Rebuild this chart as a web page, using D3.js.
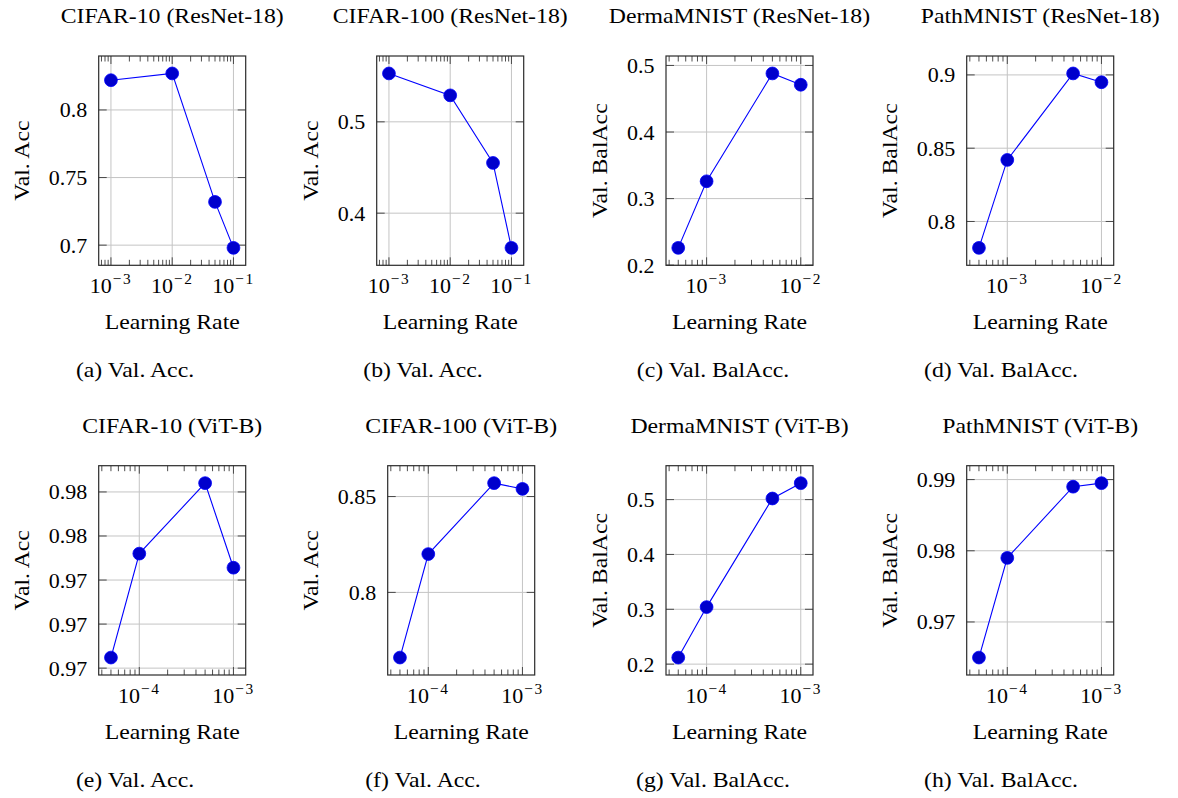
<!DOCTYPE html>
<html>
<head>
<meta charset="utf-8">
<script src="https://cdn.jsdelivr.net/npm/d3@7"></script>
<style>
  body { margin: 0; background: #fff; }
  text { font-family: "Liberation Serif", "Times New Roman", serif; fill: #000; }
</style>
</head>
<body>
<svg id="fig" width="1178" height="798"></svg>
<script>
// ---- Data ---------------------------------------------------------------
const panelTitles = [
  "CIFAR-10 (ResNet-18)", "CIFAR-100 (ResNet-18)", "DermaMNIST (ResNet-18)", "PathMNIST (ResNet-18)",
  "CIFAR-10 (ViT-B)", "CIFAR-100 (ViT-B)", "DermaMNIST (ViT-B)", "PathMNIST (ViT-B)"
];
const captions = [
  "(a) Val. Acc.", "(b) Val. Acc.", "(c) Val. BalAcc.", "(d) Val. BalAcc.",
  "(e) Val. Acc.", "(f) Val. Acc.", "(g) Val. BalAcc.", "(h) Val. BalAcc."
];
const yAxisLabels = [
  "Val. Acc", "Val. Acc", "Val. BalAcc", "Val. BalAcc",
  "Val. Acc", "Val. Acc", "Val. BalAcc", "Val. BalAcc"
];
const xAxisLabel = "Learning Rate";

// learning rates swept
const lrResNetCifar = [1e-3, 1e-2, 5e-2, 1e-1];
const lrResNetMed = [5e-4, 1e-3, 5e-3, 1e-2];
const lrViT = [5e-5, 1e-4, 5e-4, 1e-3];

// validation scores per learning rate
const cifar10ResNet = [0.822, 0.827, 0.732, 0.698];
const cifar100ResNet = [0.553, 0.529, 0.455, 0.362];
const dermaResNet = [0.226, 0.326, 0.488, 0.471];
const pathResNet = [0.782, 0.842, 0.901, 0.895];
const cifar10ViT = [0.9681, 0.9740, 0.9780, 0.9732];
const cifar100ViT = [0.766, 0.820, 0.857, 0.854];
const dermaViT = [0.212, 0.304, 0.502, 0.530];
const pathViT = [0.965, 0.979, 0.989, 0.9895];

// x tick exponents (labels are 10^k)
const xTickExpCifar = [-3, -2, -1];
const xTickExpMed = [-3, -2];
const xTickExpViT = [-4, -3];

// y ticks and their printed labels
const yTicksA = [0.7, 0.75, 0.8],            yTickLabelsA = ["0.7", "0.75", "0.8"];
const yTicksB = [0.4, 0.5],                  yTickLabelsB = ["0.4", "0.5"];
const yTicksC = [0.2, 0.3, 0.4, 0.5],        yTickLabelsC = ["0.2", "0.3", "0.4", "0.5"];
const yTicksD = [0.8, 0.85, 0.9],            yTickLabelsD = ["0.8", "0.85", "0.9"];
const yTicksE = [0.9675, 0.97, 0.9725, 0.975, 0.9775],
      yTickLabelsE = ["0.97", "0.97", "0.97", "0.98", "0.98"];
const yTicksF = [0.8, 0.85],                 yTickLabelsF = ["0.8", "0.85"];
const yTicksG = [0.2, 0.3, 0.4, 0.5],        yTickLabelsG = ["0.2", "0.3", "0.4", "0.5"];
const yTicksH = [0.97, 0.98, 0.99],          yTickLabelsH = ["0.97", "0.98", "0.99"];

const panels = [
  { lr: lrResNetCifar, val: cifar10ResNet,  xExp: xTickExpCifar, yT: yTicksA, yL: yTickLabelsA },
  { lr: lrResNetCifar, val: cifar100ResNet, xExp: xTickExpCifar, yT: yTicksB, yL: yTickLabelsB },
  { lr: lrResNetMed,   val: dermaResNet,    xExp: xTickExpMed,   yT: yTicksC, yL: yTickLabelsC },
  { lr: lrResNetMed,   val: pathResNet,     xExp: xTickExpMed,   yT: yTicksD, yL: yTickLabelsD },
  { lr: lrViT,         val: cifar10ViT,     xExp: xTickExpViT,   yT: yTicksE, yL: yTickLabelsE },
  { lr: lrViT,         val: cifar100ViT,    xExp: xTickExpViT,   yT: yTicksF, yL: yTickLabelsF },
  { lr: lrViT,         val: dermaViT,       xExp: xTickExpViT,   yT: yTicksG, yL: yTickLabelsG },
  { lr: lrViT,         val: pathViT,        xExp: xTickExpViT,   yT: yTicksH, yL: yTickLabelsH }
];

// ---- Layout -------------------------------------------------------------
const boxLeft = [98.7, 376.7, 666, 966.7, 98.7, 387.7, 666, 966.7];
const rowTop = [56, 465.7];
const boxW = 147, boxH = 209.3;
const captionX = [135, 423, 713, 1001];
const FONT = 22;
const WIDEN = 1.08;          // horizontal stretch for word labels
const MAJOR = 8, MINOR = 5.5;
const ENLARGE = 0.1;

const svg = d3.select("#fig");

// word label helper: positioned via transform, slightly widened
function wordLabel(g, x, y, str, rot = 0) {
  return g.append("text")
    .attr("transform", `translate(${x},${y}) rotate(${rot}) scale(${WIDEN},1)`)
    .attr("text-anchor", "middle").attr("font-size", FONT).text(str);
}

panels.forEach((p, i) => {
  const L = boxLeft[i], T = rowTop[Math.floor(i / 4)];
  const R = L + boxW, B = T + boxH;
  const g = svg.append("g");

  // log x domain padded by 10% of the data span (in decades)
  const lo = Math.log10(d3.min(p.lr)), hi = Math.log10(d3.max(p.lr));
  const xr = hi - lo;
  const x = d3.scaleLog()
    .domain([Math.pow(10, lo - ENLARGE * xr), Math.pow(10, hi + ENLARGE * xr)])
    .range([L, R]);
  const [ymin, ymax] = d3.extent(p.val);
  const yr = ymax - ymin;
  const y = d3.scaleLinear()
    .domain([ymin - ENLARGE * yr, ymax + ENLARGE * yr])
    .range([B, T]);

  const inX = v => x(v) >= L - 0.5 && x(v) <= R + 0.5;
  const inY = v => y(v) >= T - 1 && y(v) <= B + 1;
  const xMajors = p.xExp.map(k => Math.pow(10, k)).filter(inX);
  const yMajors = p.yT.map((v, j) => ({ v, label: p.yL[j] })).filter(d => inY(d.v));

  // grid
  g.selectAll(".gx").data(xMajors).join("line")
    .attr("x1", d => x(d)).attr("x2", d => x(d)).attr("y1", T).attr("y2", B)
    .attr("stroke", "#c4c4c4").attr("stroke-width", 1);
  g.selectAll(".gy").data(yMajors).join("line")
    .attr("x1", L).attr("x2", R).attr("y1", d => y(d.v)).attr("y2", d => y(d.v))
    .attr("stroke", "#c4c4c4").attr("stroke-width", 1);

  // minor log ticks (top and bottom, inward)
  const minors = [];
  for (let k = Math.floor(lo) - 1; k <= Math.ceil(hi) + 1; k++) {
    for (let m = 2; m <= 9; m++) {
      const v = m * Math.pow(10, k);
      if (x(v) > L + 0.5 && x(v) < R - 0.5) minors.push(v);
    }
  }
  minors.forEach(v => {
    [[T, T + MINOR], [B - MINOR, B]].forEach(([a, b]) => {
      g.append("line").attr("x1", x(v)).attr("x2", x(v)).attr("y1", a).attr("y2", b)
        .attr("stroke", "#3a3a3a").attr("stroke-width", 0.9);
    });
  });

  // major ticks, inward on all four sides
  xMajors.forEach(v => {
    [[T, T + MAJOR], [B - MAJOR, B]].forEach(([a, b]) => {
      g.append("line").attr("x1", x(v)).attr("x2", x(v)).attr("y1", a).attr("y2", b)
        .attr("stroke", "#3a3a3a").attr("stroke-width", 0.9);
    });
  });
  yMajors.forEach(d => {
    [[L, L + MAJOR], [R - MAJOR, R]].forEach(([a, b]) => {
      g.append("line").attr("x1", a).attr("x2", b).attr("y1", y(d.v)).attr("y2", y(d.v))
        .attr("stroke", "#3a3a3a").attr("stroke-width", 0.9);
    });
  });

  // frame
  g.append("rect").attr("x", L).attr("y", T).attr("width", boxW).attr("height", boxH)
    .attr("fill", "none").attr("stroke", "#2b2b2b").attr("stroke-width", 1.2);

  // series
  const pts = p.lr.map((v, j) => [v, p.val[j]]);
  g.append("path").datum(pts)
    .attr("d", d3.line().x(d => x(d[0])).y(d => y(d[1])))
    .attr("fill", "none").attr("stroke", "#0000ff").attr("stroke-width", 1.1);
  g.selectAll(".pt").data(pts).join("circle")
    .attr("cx", d => x(d[0])).attr("cy", d => y(d[1])).attr("r", 6.4)
    .attr("fill", "#0000cc").attr("stroke", "#0000ff").attr("stroke-width", 0.8);

  // y tick labels
  const yLab = g.selectAll(".yl").data(yMajors).join("text")
    .attr("x", L - 11.5).attr("y", d => y(d.v) + 7.5)
    .attr("text-anchor", "end").attr("font-size", FONT)
    .text(d => d.label);

  // x tick labels 10^k
  xMajors.forEach(v => {
    const k = Math.round(Math.log10(v));
    const t = g.append("text").attr("x", x(v)).attr("y", B + 28)
      .attr("text-anchor", "middle").attr("font-size", FONT);
    t.append("tspan").text("10");
    t.append("tspan").attr("dx", 1).attr("dy", -9).attr("font-size", FONT * 0.7)
      .attr("letter-spacing", 1.5).text("\u2212" + Math.abs(k));
  });

  // y axis label, placed left of the widest tick label
  let minX = L;
  yLab.each(function () { minX = Math.min(minX, this.getBBox().x); });
  wordLabel(g, minX - 20, (T + B) / 2, yAxisLabels[i], -90);

  // x axis label
  wordLabel(g, (L + R) / 2, B + 64, xAxisLabel);

  // title
  wordLabel(g, (L + R) / 2, T - 33, panelTitles[i]);

  // sub-caption
  wordLabel(g, captionX[i % 4], B + 112, captions[i]);
});
</script>
</body>
</html>
